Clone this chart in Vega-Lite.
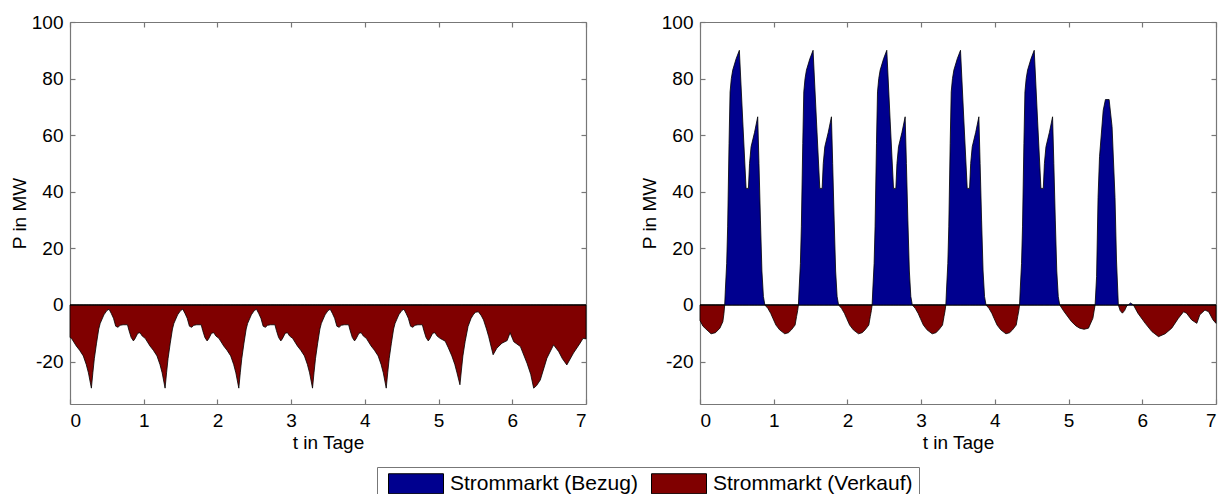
{
  "$schema": "https://vega.github.io/schema/vega-lite/v6.json",
  "padding": {"left": 10, "top": 13, "right": 5, "bottom": 5},
  "background": "white",
  "config": {
    "font": "Liberation Sans",
    "view": {"stroke": null},
    "axis": {
      "labelFont": "Liberation Sans", "labelFontSize": 19, "labelColor": "black",
      "titleFont": "Liberation Sans", "titleFontSize": 19, "titleFontWeight": "normal", "titleColor": "black",
      "domainColor": "#777", "domainWidth": 1.2, "tickColor": "#777", "tickWidth": 1.2, "tickSize": -5,
      "grid": false, "labelPadding": 12, "labelExpr": "'' + datum.value"
    }
  },
  "datasets": {
    "szenario1": [
      {"t": 0, "P": 0, "s": "Strommarkt (Bezug)"}, {"t": 7, "P": 0, "s": "Strommarkt (Bezug)"},
      {"t": 0, "P": -11.5, "s": "Strommarkt (Verkauf)"},
      {"t": 0.02, "P": -11.8, "s": "Strommarkt (Verkauf)"}, {"t": 0.085, "P": -14.5, "s": "Strommarkt (Verkauf)"}, {"t": 0.13, "P": -16, "s": "Strommarkt (Verkauf)"}, {"t": 0.18, "P": -18, "s": "Strommarkt (Verkauf)"}, {"t": 0.22, "P": -21, "s": "Strommarkt (Verkauf)"}, {"t": 0.25, "P": -24, "s": "Strommarkt (Verkauf)"}, {"t": 0.29, "P": -29.4, "s": "Strommarkt (Verkauf)"},
      {"t": 0.31, "P": -24, "s": "Strommarkt (Verkauf)"}, {"t": 0.33, "P": -19, "s": "Strommarkt (Verkauf)"}, {"t": 0.36, "P": -13.5, "s": "Strommarkt (Verkauf)"}, {"t": 0.39, "P": -8.5, "s": "Strommarkt (Verkauf)"}, {"t": 0.41, "P": -6.5, "s": "Strommarkt (Verkauf)"}, {"t": 0.46, "P": -3.5, "s": "Strommarkt (Verkauf)"}, {"t": 0.5, "P": -2, "s": "Strommarkt (Verkauf)"}, {"t": 0.53, "P": -1.5, "s": "Strommarkt (Verkauf)"}, {"t": 0.56, "P": -3, "s": "Strommarkt (Verkauf)"}, {"t": 0.59, "P": -4.7, "s": "Strommarkt (Verkauf)"}, {"t": 0.62, "P": -7.5, "s": "Strommarkt (Verkauf)"}, {"t": 0.65, "P": -7.9, "s": "Strommarkt (Verkauf)"}, {"t": 0.68, "P": -7.2, "s": "Strommarkt (Verkauf)"}, {"t": 0.72, "P": -7, "s": "Strommarkt (Verkauf)"}, {"t": 0.78, "P": -7, "s": "Strommarkt (Verkauf)"}, {"t": 0.8, "P": -9, "s": "Strommarkt (Verkauf)"}, {"t": 0.83, "P": -11.5, "s": "Strommarkt (Verkauf)"}, {"t": 0.86, "P": -12.7, "s": "Strommarkt (Verkauf)"}, {"t": 0.88, "P": -12, "s": "Strommarkt (Verkauf)"}, {"t": 0.92, "P": -10, "s": "Strommarkt (Verkauf)"}, {"t": 0.95, "P": -9.8, "s": "Strommarkt (Verkauf)"}, {"t": 0.98, "P": -11, "s": "Strommarkt (Verkauf)"},
      {"t": 1.02, "P": -11.8, "s": "Strommarkt (Verkauf)"}, {"t": 1.085, "P": -14.5, "s": "Strommarkt (Verkauf)"}, {"t": 1.13, "P": -16, "s": "Strommarkt (Verkauf)"}, {"t": 1.18, "P": -18, "s": "Strommarkt (Verkauf)"}, {"t": 1.22, "P": -21, "s": "Strommarkt (Verkauf)"}, {"t": 1.25, "P": -24, "s": "Strommarkt (Verkauf)"}, {"t": 1.29, "P": -29.4, "s": "Strommarkt (Verkauf)"},
      {"t": 1.31, "P": -24, "s": "Strommarkt (Verkauf)"}, {"t": 1.33, "P": -19, "s": "Strommarkt (Verkauf)"}, {"t": 1.36, "P": -13.5, "s": "Strommarkt (Verkauf)"}, {"t": 1.39, "P": -8.5, "s": "Strommarkt (Verkauf)"}, {"t": 1.41, "P": -6.5, "s": "Strommarkt (Verkauf)"}, {"t": 1.46, "P": -3.5, "s": "Strommarkt (Verkauf)"}, {"t": 1.5, "P": -2, "s": "Strommarkt (Verkauf)"}, {"t": 1.53, "P": -1.5, "s": "Strommarkt (Verkauf)"}, {"t": 1.56, "P": -3, "s": "Strommarkt (Verkauf)"}, {"t": 1.59, "P": -4.7, "s": "Strommarkt (Verkauf)"}, {"t": 1.62, "P": -7.5, "s": "Strommarkt (Verkauf)"}, {"t": 1.65, "P": -7.9, "s": "Strommarkt (Verkauf)"}, {"t": 1.68, "P": -7.2, "s": "Strommarkt (Verkauf)"}, {"t": 1.72, "P": -7, "s": "Strommarkt (Verkauf)"}, {"t": 1.78, "P": -7, "s": "Strommarkt (Verkauf)"}, {"t": 1.8, "P": -9, "s": "Strommarkt (Verkauf)"}, {"t": 1.83, "P": -11.5, "s": "Strommarkt (Verkauf)"}, {"t": 1.86, "P": -12.7, "s": "Strommarkt (Verkauf)"}, {"t": 1.88, "P": -12, "s": "Strommarkt (Verkauf)"}, {"t": 1.92, "P": -10, "s": "Strommarkt (Verkauf)"}, {"t": 1.95, "P": -9.8, "s": "Strommarkt (Verkauf)"}, {"t": 1.98, "P": -11, "s": "Strommarkt (Verkauf)"},
      {"t": 2.02, "P": -11.8, "s": "Strommarkt (Verkauf)"}, {"t": 2.085, "P": -14.5, "s": "Strommarkt (Verkauf)"}, {"t": 2.13, "P": -16, "s": "Strommarkt (Verkauf)"}, {"t": 2.18, "P": -18, "s": "Strommarkt (Verkauf)"}, {"t": 2.22, "P": -21, "s": "Strommarkt (Verkauf)"}, {"t": 2.25, "P": -24, "s": "Strommarkt (Verkauf)"}, {"t": 2.29, "P": -29.4, "s": "Strommarkt (Verkauf)"},
      {"t": 2.31, "P": -24, "s": "Strommarkt (Verkauf)"}, {"t": 2.33, "P": -19, "s": "Strommarkt (Verkauf)"}, {"t": 2.36, "P": -13.5, "s": "Strommarkt (Verkauf)"}, {"t": 2.39, "P": -8.5, "s": "Strommarkt (Verkauf)"}, {"t": 2.41, "P": -6.5, "s": "Strommarkt (Verkauf)"}, {"t": 2.46, "P": -3.5, "s": "Strommarkt (Verkauf)"}, {"t": 2.5, "P": -2, "s": "Strommarkt (Verkauf)"}, {"t": 2.53, "P": -1.5, "s": "Strommarkt (Verkauf)"}, {"t": 2.56, "P": -3, "s": "Strommarkt (Verkauf)"}, {"t": 2.59, "P": -4.7, "s": "Strommarkt (Verkauf)"}, {"t": 2.62, "P": -7.5, "s": "Strommarkt (Verkauf)"}, {"t": 2.65, "P": -7.9, "s": "Strommarkt (Verkauf)"}, {"t": 2.68, "P": -7.2, "s": "Strommarkt (Verkauf)"}, {"t": 2.72, "P": -7, "s": "Strommarkt (Verkauf)"}, {"t": 2.78, "P": -7, "s": "Strommarkt (Verkauf)"}, {"t": 2.8, "P": -9, "s": "Strommarkt (Verkauf)"}, {"t": 2.83, "P": -11.5, "s": "Strommarkt (Verkauf)"}, {"t": 2.86, "P": -12.7, "s": "Strommarkt (Verkauf)"}, {"t": 2.88, "P": -12, "s": "Strommarkt (Verkauf)"}, {"t": 2.92, "P": -10, "s": "Strommarkt (Verkauf)"}, {"t": 2.95, "P": -9.8, "s": "Strommarkt (Verkauf)"}, {"t": 2.98, "P": -11, "s": "Strommarkt (Verkauf)"},
      {"t": 3.02, "P": -11.8, "s": "Strommarkt (Verkauf)"}, {"t": 3.085, "P": -14.5, "s": "Strommarkt (Verkauf)"}, {"t": 3.13, "P": -16, "s": "Strommarkt (Verkauf)"}, {"t": 3.18, "P": -18, "s": "Strommarkt (Verkauf)"}, {"t": 3.22, "P": -21, "s": "Strommarkt (Verkauf)"}, {"t": 3.25, "P": -24, "s": "Strommarkt (Verkauf)"}, {"t": 3.29, "P": -29.4, "s": "Strommarkt (Verkauf)"},
      {"t": 3.31, "P": -24, "s": "Strommarkt (Verkauf)"}, {"t": 3.33, "P": -19, "s": "Strommarkt (Verkauf)"}, {"t": 3.36, "P": -13.5, "s": "Strommarkt (Verkauf)"}, {"t": 3.39, "P": -8.5, "s": "Strommarkt (Verkauf)"}, {"t": 3.41, "P": -6.5, "s": "Strommarkt (Verkauf)"}, {"t": 3.46, "P": -3.5, "s": "Strommarkt (Verkauf)"}, {"t": 3.5, "P": -2, "s": "Strommarkt (Verkauf)"}, {"t": 3.53, "P": -1.5, "s": "Strommarkt (Verkauf)"}, {"t": 3.56, "P": -3, "s": "Strommarkt (Verkauf)"}, {"t": 3.59, "P": -4.7, "s": "Strommarkt (Verkauf)"}, {"t": 3.62, "P": -7.5, "s": "Strommarkt (Verkauf)"}, {"t": 3.65, "P": -7.9, "s": "Strommarkt (Verkauf)"}, {"t": 3.68, "P": -7.2, "s": "Strommarkt (Verkauf)"}, {"t": 3.72, "P": -7, "s": "Strommarkt (Verkauf)"}, {"t": 3.78, "P": -7, "s": "Strommarkt (Verkauf)"}, {"t": 3.8, "P": -9, "s": "Strommarkt (Verkauf)"}, {"t": 3.83, "P": -11.5, "s": "Strommarkt (Verkauf)"}, {"t": 3.86, "P": -12.7, "s": "Strommarkt (Verkauf)"}, {"t": 3.88, "P": -12, "s": "Strommarkt (Verkauf)"}, {"t": 3.92, "P": -10, "s": "Strommarkt (Verkauf)"}, {"t": 3.95, "P": -9.8, "s": "Strommarkt (Verkauf)"}, {"t": 3.98, "P": -11, "s": "Strommarkt (Verkauf)"},
      {"t": 4.02, "P": -11.8, "s": "Strommarkt (Verkauf)"}, {"t": 4.085, "P": -14.5, "s": "Strommarkt (Verkauf)"}, {"t": 4.13, "P": -16, "s": "Strommarkt (Verkauf)"}, {"t": 4.18, "P": -18, "s": "Strommarkt (Verkauf)"}, {"t": 4.22, "P": -21, "s": "Strommarkt (Verkauf)"}, {"t": 4.25, "P": -24, "s": "Strommarkt (Verkauf)"}, {"t": 4.29, "P": -29.4, "s": "Strommarkt (Verkauf)"},
      {"t": 4.31, "P": -24, "s": "Strommarkt (Verkauf)"}, {"t": 4.33, "P": -19, "s": "Strommarkt (Verkauf)"}, {"t": 4.36, "P": -13.5, "s": "Strommarkt (Verkauf)"}, {"t": 4.39, "P": -8.5, "s": "Strommarkt (Verkauf)"}, {"t": 4.41, "P": -6.5, "s": "Strommarkt (Verkauf)"}, {"t": 4.46, "P": -3.5, "s": "Strommarkt (Verkauf)"}, {"t": 4.5, "P": -2, "s": "Strommarkt (Verkauf)"}, {"t": 4.53, "P": -1.5, "s": "Strommarkt (Verkauf)"}, {"t": 4.56, "P": -3, "s": "Strommarkt (Verkauf)"}, {"t": 4.59, "P": -4.7, "s": "Strommarkt (Verkauf)"}, {"t": 4.62, "P": -7.5, "s": "Strommarkt (Verkauf)"}, {"t": 4.65, "P": -7.9, "s": "Strommarkt (Verkauf)"}, {"t": 4.68, "P": -7.2, "s": "Strommarkt (Verkauf)"}, {"t": 4.72, "P": -7, "s": "Strommarkt (Verkauf)"}, {"t": 4.78, "P": -7, "s": "Strommarkt (Verkauf)"}, {"t": 4.8, "P": -9, "s": "Strommarkt (Verkauf)"}, {"t": 4.83, "P": -11.5, "s": "Strommarkt (Verkauf)"}, {"t": 4.86, "P": -12.7, "s": "Strommarkt (Verkauf)"}, {"t": 4.88, "P": -12, "s": "Strommarkt (Verkauf)"}, {"t": 4.92, "P": -10, "s": "Strommarkt (Verkauf)"}, {"t": 4.95, "P": -9.8, "s": "Strommarkt (Verkauf)"}, {"t": 4.98, "P": -11, "s": "Strommarkt (Verkauf)"},
      {"t": 5.02, "P": -11.8, "s": "Strommarkt (Verkauf)"}, {"t": 5.09, "P": -12.8, "s": "Strommarkt (Verkauf)"}, {"t": 5.13, "P": -15, "s": "Strommarkt (Verkauf)"}, {"t": 5.18, "P": -18, "s": "Strommarkt (Verkauf)"}, {"t": 5.22, "P": -21, "s": "Strommarkt (Verkauf)"}, {"t": 5.25, "P": -24, "s": "Strommarkt (Verkauf)"}, {"t": 5.29, "P": -28.2, "s": "Strommarkt (Verkauf)"},
      {"t": 5.31, "P": -23, "s": "Strommarkt (Verkauf)"}, {"t": 5.33, "P": -18, "s": "Strommarkt (Verkauf)"}, {"t": 5.36, "P": -13, "s": "Strommarkt (Verkauf)"}, {"t": 5.4, "P": -7.6, "s": "Strommarkt (Verkauf)"}, {"t": 5.44, "P": -4.8, "s": "Strommarkt (Verkauf)"}, {"t": 5.47, "P": -3.5, "s": "Strommarkt (Verkauf)"}, {"t": 5.5, "P": -2.6, "s": "Strommarkt (Verkauf)"}, {"t": 5.54, "P": -2.4, "s": "Strommarkt (Verkauf)"}, {"t": 5.58, "P": -3.8, "s": "Strommarkt (Verkauf)"}, {"t": 5.61, "P": -5.3, "s": "Strommarkt (Verkauf)"}, {"t": 5.65, "P": -8.5, "s": "Strommarkt (Verkauf)"}, {"t": 5.68, "P": -11.2, "s": "Strommarkt (Verkauf)"}, {"t": 5.74, "P": -17.6, "s": "Strommarkt (Verkauf)"}, {"t": 5.79, "P": -15.3, "s": "Strommarkt (Verkauf)"}, {"t": 5.86, "P": -13.5, "s": "Strommarkt (Verkauf)"}, {"t": 5.93, "P": -12.6, "s": "Strommarkt (Verkauf)"}, {"t": 5.97, "P": -9.8, "s": "Strommarkt (Verkauf)"},
      {"t": 6.02, "P": -13, "s": "Strommarkt (Verkauf)"}, {"t": 6.11, "P": -14.7, "s": "Strommarkt (Verkauf)"}, {"t": 6.2, "P": -20.6, "s": "Strommarkt (Verkauf)"}, {"t": 6.25, "P": -24.5, "s": "Strommarkt (Verkauf)"}, {"t": 6.29, "P": -29.4, "s": "Strommarkt (Verkauf)"}, {"t": 6.33, "P": -28.5, "s": "Strommarkt (Verkauf)"}, {"t": 6.38, "P": -26.5, "s": "Strommarkt (Verkauf)"}, {"t": 6.47, "P": -18.8, "s": "Strommarkt (Verkauf)"}, {"t": 6.56, "P": -14.1, "s": "Strommarkt (Verkauf)"}, {"t": 6.63, "P": -16.5, "s": "Strommarkt (Verkauf)"}, {"t": 6.68, "P": -19, "s": "Strommarkt (Verkauf)"}, {"t": 6.74, "P": -21.2, "s": "Strommarkt (Verkauf)"}, {"t": 6.83, "P": -17, "s": "Strommarkt (Verkauf)"}, {"t": 6.92, "P": -13.5, "s": "Strommarkt (Verkauf)"}, {"t": 6.96, "P": -11.8, "s": "Strommarkt (Verkauf)"}, {"t": 7, "P": -12, "s": "Strommarkt (Verkauf)"}
    ],
    "szenario2": [
      {"t": 0, "P": 0, "s": "Strommarkt (Bezug)"},
      {"t": 0.335, "P": 0, "s": "Strommarkt (Bezug)"}, {"t": 0.344, "P": 5.3, "s": "Strommarkt (Bezug)"}, {"t": 0.362, "P": 14.7, "s": "Strommarkt (Bezug)"}, {"t": 0.375, "P": 27.6, "s": "Strommarkt (Bezug)"}, {"t": 0.394, "P": 57, "s": "Strommarkt (Bezug)"}, {"t": 0.408, "P": 75.3, "s": "Strommarkt (Bezug)"}, {"t": 0.425, "P": 80, "s": "Strommarkt (Bezug)"}, {"t": 0.444, "P": 83, "s": "Strommarkt (Bezug)"}, {"t": 0.49, "P": 87, "s": "Strommarkt (Bezug)"}, {"t": 0.534, "P": 90, "s": "Strommarkt (Bezug)"}, {"t": 0.58, "P": 65, "s": "Strommarkt (Bezug)"}, {"t": 0.625, "P": 41.2, "s": "Strommarkt (Bezug)"}, {"t": 0.657, "P": 41.2, "s": "Strommarkt (Bezug)"}, {"t": 0.672, "P": 50, "s": "Strommarkt (Bezug)"}, {"t": 0.693, "P": 55.9, "s": "Strommarkt (Bezug)"}, {"t": 0.74, "P": 61, "s": "Strommarkt (Bezug)"}, {"t": 0.783, "P": 66.5, "s": "Strommarkt (Bezug)"}, {"t": 0.8, "P": 50, "s": "Strommarkt (Bezug)"}, {"t": 0.82, "P": 30, "s": "Strommarkt (Bezug)"}, {"t": 0.84, "P": 12, "s": "Strommarkt (Bezug)"}, {"t": 0.86, "P": 3, "s": "Strommarkt (Bezug)"}, {"t": 0.88, "P": 0, "s": "Strommarkt (Bezug)"},
      {"t": 1.335, "P": 0, "s": "Strommarkt (Bezug)"}, {"t": 1.344, "P": 5.3, "s": "Strommarkt (Bezug)"}, {"t": 1.362, "P": 14.7, "s": "Strommarkt (Bezug)"}, {"t": 1.375, "P": 27.6, "s": "Strommarkt (Bezug)"}, {"t": 1.394, "P": 57, "s": "Strommarkt (Bezug)"}, {"t": 1.408, "P": 75.3, "s": "Strommarkt (Bezug)"}, {"t": 1.425, "P": 80, "s": "Strommarkt (Bezug)"}, {"t": 1.444, "P": 83, "s": "Strommarkt (Bezug)"}, {"t": 1.49, "P": 87, "s": "Strommarkt (Bezug)"}, {"t": 1.534, "P": 90, "s": "Strommarkt (Bezug)"}, {"t": 1.58, "P": 65, "s": "Strommarkt (Bezug)"}, {"t": 1.625, "P": 41.2, "s": "Strommarkt (Bezug)"}, {"t": 1.657, "P": 41.2, "s": "Strommarkt (Bezug)"}, {"t": 1.672, "P": 50, "s": "Strommarkt (Bezug)"}, {"t": 1.693, "P": 55.9, "s": "Strommarkt (Bezug)"}, {"t": 1.74, "P": 61, "s": "Strommarkt (Bezug)"}, {"t": 1.783, "P": 66.5, "s": "Strommarkt (Bezug)"}, {"t": 1.8, "P": 50, "s": "Strommarkt (Bezug)"}, {"t": 1.82, "P": 30, "s": "Strommarkt (Bezug)"}, {"t": 1.84, "P": 12, "s": "Strommarkt (Bezug)"}, {"t": 1.86, "P": 3, "s": "Strommarkt (Bezug)"}, {"t": 1.88, "P": 0, "s": "Strommarkt (Bezug)"},
      {"t": 2.335, "P": 0, "s": "Strommarkt (Bezug)"}, {"t": 2.344, "P": 5.3, "s": "Strommarkt (Bezug)"}, {"t": 2.362, "P": 14.7, "s": "Strommarkt (Bezug)"}, {"t": 2.375, "P": 27.6, "s": "Strommarkt (Bezug)"}, {"t": 2.394, "P": 57, "s": "Strommarkt (Bezug)"}, {"t": 2.408, "P": 75.3, "s": "Strommarkt (Bezug)"}, {"t": 2.425, "P": 80, "s": "Strommarkt (Bezug)"}, {"t": 2.444, "P": 83, "s": "Strommarkt (Bezug)"}, {"t": 2.49, "P": 87, "s": "Strommarkt (Bezug)"}, {"t": 2.534, "P": 90, "s": "Strommarkt (Bezug)"}, {"t": 2.58, "P": 65, "s": "Strommarkt (Bezug)"}, {"t": 2.625, "P": 41.2, "s": "Strommarkt (Bezug)"}, {"t": 2.657, "P": 41.2, "s": "Strommarkt (Bezug)"}, {"t": 2.672, "P": 50, "s": "Strommarkt (Bezug)"}, {"t": 2.693, "P": 55.9, "s": "Strommarkt (Bezug)"}, {"t": 2.74, "P": 61, "s": "Strommarkt (Bezug)"}, {"t": 2.783, "P": 66.5, "s": "Strommarkt (Bezug)"}, {"t": 2.8, "P": 50, "s": "Strommarkt (Bezug)"}, {"t": 2.82, "P": 30, "s": "Strommarkt (Bezug)"}, {"t": 2.84, "P": 12, "s": "Strommarkt (Bezug)"}, {"t": 2.86, "P": 3, "s": "Strommarkt (Bezug)"}, {"t": 2.88, "P": 0, "s": "Strommarkt (Bezug)"},
      {"t": 3.335, "P": 0, "s": "Strommarkt (Bezug)"}, {"t": 3.344, "P": 5.3, "s": "Strommarkt (Bezug)"}, {"t": 3.362, "P": 14.7, "s": "Strommarkt (Bezug)"}, {"t": 3.375, "P": 27.6, "s": "Strommarkt (Bezug)"}, {"t": 3.394, "P": 57, "s": "Strommarkt (Bezug)"}, {"t": 3.408, "P": 75.3, "s": "Strommarkt (Bezug)"}, {"t": 3.425, "P": 80, "s": "Strommarkt (Bezug)"}, {"t": 3.444, "P": 83, "s": "Strommarkt (Bezug)"}, {"t": 3.49, "P": 87, "s": "Strommarkt (Bezug)"}, {"t": 3.534, "P": 90, "s": "Strommarkt (Bezug)"}, {"t": 3.58, "P": 65, "s": "Strommarkt (Bezug)"}, {"t": 3.625, "P": 41.2, "s": "Strommarkt (Bezug)"}, {"t": 3.657, "P": 41.2, "s": "Strommarkt (Bezug)"}, {"t": 3.672, "P": 50, "s": "Strommarkt (Bezug)"}, {"t": 3.693, "P": 55.9, "s": "Strommarkt (Bezug)"}, {"t": 3.74, "P": 61, "s": "Strommarkt (Bezug)"}, {"t": 3.783, "P": 66.5, "s": "Strommarkt (Bezug)"}, {"t": 3.8, "P": 50, "s": "Strommarkt (Bezug)"}, {"t": 3.82, "P": 30, "s": "Strommarkt (Bezug)"}, {"t": 3.84, "P": 12, "s": "Strommarkt (Bezug)"}, {"t": 3.86, "P": 3, "s": "Strommarkt (Bezug)"}, {"t": 3.88, "P": 0, "s": "Strommarkt (Bezug)"},
      {"t": 4.335, "P": 0, "s": "Strommarkt (Bezug)"}, {"t": 4.344, "P": 5.3, "s": "Strommarkt (Bezug)"}, {"t": 4.362, "P": 14.7, "s": "Strommarkt (Bezug)"}, {"t": 4.375, "P": 27.6, "s": "Strommarkt (Bezug)"}, {"t": 4.394, "P": 57, "s": "Strommarkt (Bezug)"}, {"t": 4.408, "P": 75.3, "s": "Strommarkt (Bezug)"}, {"t": 4.425, "P": 80, "s": "Strommarkt (Bezug)"}, {"t": 4.444, "P": 83, "s": "Strommarkt (Bezug)"}, {"t": 4.49, "P": 87, "s": "Strommarkt (Bezug)"}, {"t": 4.534, "P": 90, "s": "Strommarkt (Bezug)"}, {"t": 4.58, "P": 65, "s": "Strommarkt (Bezug)"}, {"t": 4.625, "P": 41.2, "s": "Strommarkt (Bezug)"}, {"t": 4.657, "P": 41.2, "s": "Strommarkt (Bezug)"}, {"t": 4.672, "P": 50, "s": "Strommarkt (Bezug)"}, {"t": 4.693, "P": 55.9, "s": "Strommarkt (Bezug)"}, {"t": 4.74, "P": 61, "s": "Strommarkt (Bezug)"}, {"t": 4.783, "P": 66.5, "s": "Strommarkt (Bezug)"}, {"t": 4.8, "P": 50, "s": "Strommarkt (Bezug)"}, {"t": 4.82, "P": 30, "s": "Strommarkt (Bezug)"}, {"t": 4.84, "P": 12, "s": "Strommarkt (Bezug)"}, {"t": 4.86, "P": 3, "s": "Strommarkt (Bezug)"}, {"t": 4.88, "P": 0, "s": "Strommarkt (Bezug)"},
      {"t": 5.36, "P": 0, "s": "Strommarkt (Bezug)"}, {"t": 5.38, "P": 10, "s": "Strommarkt (Bezug)"}, {"t": 5.4, "P": 38, "s": "Strommarkt (Bezug)"}, {"t": 5.42, "P": 52.4, "s": "Strommarkt (Bezug)"}, {"t": 5.47, "P": 68.8, "s": "Strommarkt (Bezug)"}, {"t": 5.5, "P": 72.6, "s": "Strommarkt (Bezug)"}, {"t": 5.55, "P": 72.6, "s": "Strommarkt (Bezug)"}, {"t": 5.59, "P": 63, "s": "Strommarkt (Bezug)"}, {"t": 5.63, "P": 38, "s": "Strommarkt (Bezug)"}, {"t": 5.65, "P": 15.9, "s": "Strommarkt (Bezug)"}, {"t": 5.675, "P": 0, "s": "Strommarkt (Bezug)"},
      {"t": 5.81, "P": 0, "s": "Strommarkt (Bezug)"}, {"t": 5.84, "P": 0.7, "s": "Strommarkt (Bezug)"}, {"t": 5.88, "P": 0, "s": "Strommarkt (Bezug)"}, {"t": 7, "P": 0, "s": "Strommarkt (Bezug)"},
      {"t": 0, "P": -5.5, "s": "Strommarkt (Verkauf)"}, {"t": 0.04, "P": -7.5, "s": "Strommarkt (Verkauf)"}, {"t": 0.08, "P": -8.5, "s": "Strommarkt (Verkauf)"}, {"t": 0.15, "P": -10.2, "s": "Strommarkt (Verkauf)"}, {"t": 0.21, "P": -9.8, "s": "Strommarkt (Verkauf)"}, {"t": 0.27, "P": -8.2, "s": "Strommarkt (Verkauf)"}, {"t": 0.31, "P": -5.9, "s": "Strommarkt (Verkauf)"}, {"t": 0.325, "P": -3, "s": "Strommarkt (Verkauf)"}, {"t": 0.335, "P": 0, "s": "Strommarkt (Verkauf)"},
      {"t": 0.88, "P": 0, "s": "Strommarkt (Verkauf)"}, {"t": 0.92, "P": -1.2, "s": "Strommarkt (Verkauf)"}, {"t": 0.96, "P": -3, "s": "Strommarkt (Verkauf)"}, {"t": 0.99, "P": -4.8, "s": "Strommarkt (Verkauf)"}, {"t": 1.03, "P": -7.1, "s": "Strommarkt (Verkauf)"}, {"t": 1.08, "P": -8.8, "s": "Strommarkt (Verkauf)"}, {"t": 1.15, "P": -10.2, "s": "Strommarkt (Verkauf)"}, {"t": 1.2, "P": -9.8, "s": "Strommarkt (Verkauf)"}, {"t": 1.24, "P": -8.8, "s": "Strommarkt (Verkauf)"}, {"t": 1.29, "P": -7.1, "s": "Strommarkt (Verkauf)"}, {"t": 1.31, "P": -4.1, "s": "Strommarkt (Verkauf)"}, {"t": 1.325, "P": -2, "s": "Strommarkt (Verkauf)"}, {"t": 1.335, "P": 0, "s": "Strommarkt (Verkauf)"},
      {"t": 1.88, "P": 0, "s": "Strommarkt (Verkauf)"}, {"t": 1.92, "P": -1.2, "s": "Strommarkt (Verkauf)"}, {"t": 1.96, "P": -3, "s": "Strommarkt (Verkauf)"}, {"t": 1.99, "P": -4.8, "s": "Strommarkt (Verkauf)"}, {"t": 2.03, "P": -7.1, "s": "Strommarkt (Verkauf)"}, {"t": 2.08, "P": -8.8, "s": "Strommarkt (Verkauf)"}, {"t": 2.15, "P": -10.2, "s": "Strommarkt (Verkauf)"}, {"t": 2.2, "P": -9.8, "s": "Strommarkt (Verkauf)"}, {"t": 2.24, "P": -8.8, "s": "Strommarkt (Verkauf)"}, {"t": 2.29, "P": -7.1, "s": "Strommarkt (Verkauf)"}, {"t": 2.31, "P": -4.1, "s": "Strommarkt (Verkauf)"}, {"t": 2.325, "P": -2, "s": "Strommarkt (Verkauf)"}, {"t": 2.335, "P": 0, "s": "Strommarkt (Verkauf)"},
      {"t": 2.88, "P": 0, "s": "Strommarkt (Verkauf)"}, {"t": 2.92, "P": -1.2, "s": "Strommarkt (Verkauf)"}, {"t": 2.96, "P": -3, "s": "Strommarkt (Verkauf)"}, {"t": 2.99, "P": -4.8, "s": "Strommarkt (Verkauf)"}, {"t": 3.03, "P": -7.1, "s": "Strommarkt (Verkauf)"}, {"t": 3.08, "P": -8.8, "s": "Strommarkt (Verkauf)"}, {"t": 3.15, "P": -10.2, "s": "Strommarkt (Verkauf)"}, {"t": 3.2, "P": -9.8, "s": "Strommarkt (Verkauf)"}, {"t": 3.24, "P": -8.8, "s": "Strommarkt (Verkauf)"}, {"t": 3.29, "P": -7.1, "s": "Strommarkt (Verkauf)"}, {"t": 3.31, "P": -4.1, "s": "Strommarkt (Verkauf)"}, {"t": 3.325, "P": -2, "s": "Strommarkt (Verkauf)"}, {"t": 3.335, "P": 0, "s": "Strommarkt (Verkauf)"},
      {"t": 3.88, "P": 0, "s": "Strommarkt (Verkauf)"}, {"t": 3.92, "P": -1.2, "s": "Strommarkt (Verkauf)"}, {"t": 3.96, "P": -3, "s": "Strommarkt (Verkauf)"}, {"t": 3.99, "P": -4.8, "s": "Strommarkt (Verkauf)"}, {"t": 4.03, "P": -7.1, "s": "Strommarkt (Verkauf)"}, {"t": 4.08, "P": -8.8, "s": "Strommarkt (Verkauf)"}, {"t": 4.15, "P": -10.2, "s": "Strommarkt (Verkauf)"}, {"t": 4.2, "P": -9.8, "s": "Strommarkt (Verkauf)"}, {"t": 4.24, "P": -8.8, "s": "Strommarkt (Verkauf)"}, {"t": 4.29, "P": -7.1, "s": "Strommarkt (Verkauf)"}, {"t": 4.31, "P": -4.1, "s": "Strommarkt (Verkauf)"}, {"t": 4.325, "P": -2, "s": "Strommarkt (Verkauf)"}, {"t": 4.335, "P": 0, "s": "Strommarkt (Verkauf)"},
      {"t": 4.88, "P": 0, "s": "Strommarkt (Verkauf)"}, {"t": 4.94, "P": -2.4, "s": "Strommarkt (Verkauf)"}, {"t": 5.04, "P": -5.9, "s": "Strommarkt (Verkauf)"}, {"t": 5.1, "P": -7.4, "s": "Strommarkt (Verkauf)"}, {"t": 5.15, "P": -8.2, "s": "Strommarkt (Verkauf)"}, {"t": 5.21, "P": -8.6, "s": "Strommarkt (Verkauf)"}, {"t": 5.27, "P": -8.2, "s": "Strommarkt (Verkauf)"}, {"t": 5.33, "P": -4.7, "s": "Strommarkt (Verkauf)"}, {"t": 5.36, "P": 0, "s": "Strommarkt (Verkauf)"},
      {"t": 5.675, "P": 0, "s": "Strommarkt (Verkauf)"}, {"t": 5.7, "P": -2, "s": "Strommarkt (Verkauf)"}, {"t": 5.73, "P": -2.9, "s": "Strommarkt (Verkauf)"}, {"t": 5.76, "P": -2, "s": "Strommarkt (Verkauf)"}, {"t": 5.79, "P": -0.3, "s": "Strommarkt (Verkauf)"}, {"t": 5.81, "P": 0, "s": "Strommarkt (Verkauf)"},
      {"t": 5.88, "P": 0, "s": "Strommarkt (Verkauf)"}, {"t": 5.94, "P": -2.9, "s": "Strommarkt (Verkauf)"}, {"t": 6.04, "P": -6.5, "s": "Strommarkt (Verkauf)"}, {"t": 6.13, "P": -9.4, "s": "Strommarkt (Verkauf)"}, {"t": 6.22, "P": -11.2, "s": "Strommarkt (Verkauf)"}, {"t": 6.31, "P": -10.2, "s": "Strommarkt (Verkauf)"}, {"t": 6.4, "P": -8.2, "s": "Strommarkt (Verkauf)"}, {"t": 6.49, "P": -4.7, "s": "Strommarkt (Verkauf)"}, {"t": 6.56, "P": -2.4, "s": "Strommarkt (Verkauf)"}, {"t": 6.6, "P": -2.9, "s": "Strommarkt (Verkauf)"}, {"t": 6.67, "P": -5.3, "s": "Strommarkt (Verkauf)"}, {"t": 6.74, "P": -6.5, "s": "Strommarkt (Verkauf)"}, {"t": 6.78, "P": -3.5, "s": "Strommarkt (Verkauf)"}, {"t": 6.85, "P": -1.8, "s": "Strommarkt (Verkauf)"}, {"t": 6.9, "P": -2.4, "s": "Strommarkt (Verkauf)"}, {"t": 6.96, "P": -5.3, "s": "Strommarkt (Verkauf)"}, {"t": 7, "P": -6.5, "s": "Strommarkt (Verkauf)"}
    ]
  },
  "spacing": 52,
  "hconcat": [
    {
      "width": 516, "height": 382,
      "data": {"name": "szenario1"},
      "layer": [
        {
          "transform": [{"filter": "datum.s === 'Strommarkt (Verkauf)'"}],
          "mark": {"type": "area", "stroke": "black", "strokeWidth": 0.8, "opacity": 1},
          "encoding": {
            "x": {"field": "t", "type": "quantitative", "scale": {"domain": [0, 7], "nice": false, "zero": false},
                  "axis": {"orient": "bottom", "values": [0, 1, 2, 3, 4, 5, 6, 7], "title": "t in Tage", "titlePadding": 3}},
            "y": {"field": "P", "type": "quantitative", "stack": null, "scale": {"domain": [-35, 100], "nice": false},
                  "axis": {"orient": "left", "values": [-20, 0, 20, 40, 60, 80, 100], "title": "P in MW", "titlePadding": 2}},
            "color": {"field": "s", "type": "nominal",
                      "scale": {"domain": ["Strommarkt (Bezug)", "Strommarkt (Verkauf)"], "range": ["#00008F", "#800000"]},
                      "legend": {"orient": "none", "legendX": 307, "legendY": 445, "direction": "horizontal", "title": null,
                                 "symbolType": "M-2.75,-1L2.75,-1L2.75,1L-2.75,1Z", "symbolSize": 400, "symbolOffset": 22.5,
                                 "symbolStrokeColor": "black", "symbolStrokeWidth": 1, "symbolOpacity": 1,
                                 "labelFont": "Liberation Sans", "labelFontSize": 21, "labelColor": "black", "labelOffset": 23.5, "labelLimit": 400,
                                 "columnPadding": 8, "padding": 6, "strokeColor": "#777", "fillColor": "white"}}
          }
        },
        {
          "transform": [{"filter": "datum.s === 'Strommarkt (Bezug)'"}],
          "mark": {"type": "area", "stroke": "black", "strokeWidth": 0.8, "opacity": 1},
          "encoding": {
            "x": {"field": "t", "type": "quantitative", "axis": {"orient": "top", "values": [0, 1, 2, 3, 4, 5, 6, 7], "labels": false, "title": null}},
            "y": {"field": "P", "type": "quantitative", "stack": null, "axis": {"orient": "right", "values": [-20, 0, 20, 40, 60, 80, 100], "labels": false, "title": null}},
            "color": {"field": "s", "type": "nominal"}
          }
        }
      ],
      "resolve": {"axis": {"x": "independent", "y": "independent"}}
    },
    {
      "width": 516, "height": 382,
      "data": {"name": "szenario2"},
      "layer": [
        {
          "transform": [{"filter": "datum.s === 'Strommarkt (Verkauf)'"}],
          "mark": {"type": "area", "stroke": "black", "strokeWidth": 0.8, "opacity": 1},
          "encoding": {
            "x": {"field": "t", "type": "quantitative", "scale": {"domain": [0, 7], "nice": false, "zero": false},
                  "axis": {"orient": "bottom", "values": [0, 1, 2, 3, 4, 5, 6, 7], "title": "t in Tage", "titlePadding": 3}},
            "y": {"field": "P", "type": "quantitative", "stack": null, "scale": {"domain": [-35, 100], "nice": false},
                  "axis": {"orient": "left", "values": [-20, 0, 20, 40, 60, 80, 100], "title": "P in MW", "titlePadding": 2}},
            "color": {"field": "s", "type": "nominal"}
          }
        },
        {
          "transform": [{"filter": "datum.s === 'Strommarkt (Bezug)'"}],
          "mark": {"type": "area", "stroke": "black", "strokeWidth": 0.8, "opacity": 1},
          "encoding": {
            "x": {"field": "t", "type": "quantitative", "axis": {"orient": "top", "values": [0, 1, 2, 3, 4, 5, 6, 7], "labels": false, "title": null}},
            "y": {"field": "P", "type": "quantitative", "stack": null, "axis": {"orient": "right", "values": [-20, 0, 20, 40, 60, 80, 100], "labels": false, "title": null}},
            "color": {"field": "s", "type": "nominal"}
          }
        }
      ],
      "resolve": {"axis": {"x": "independent", "y": "independent"}}
    }
  ]
}
